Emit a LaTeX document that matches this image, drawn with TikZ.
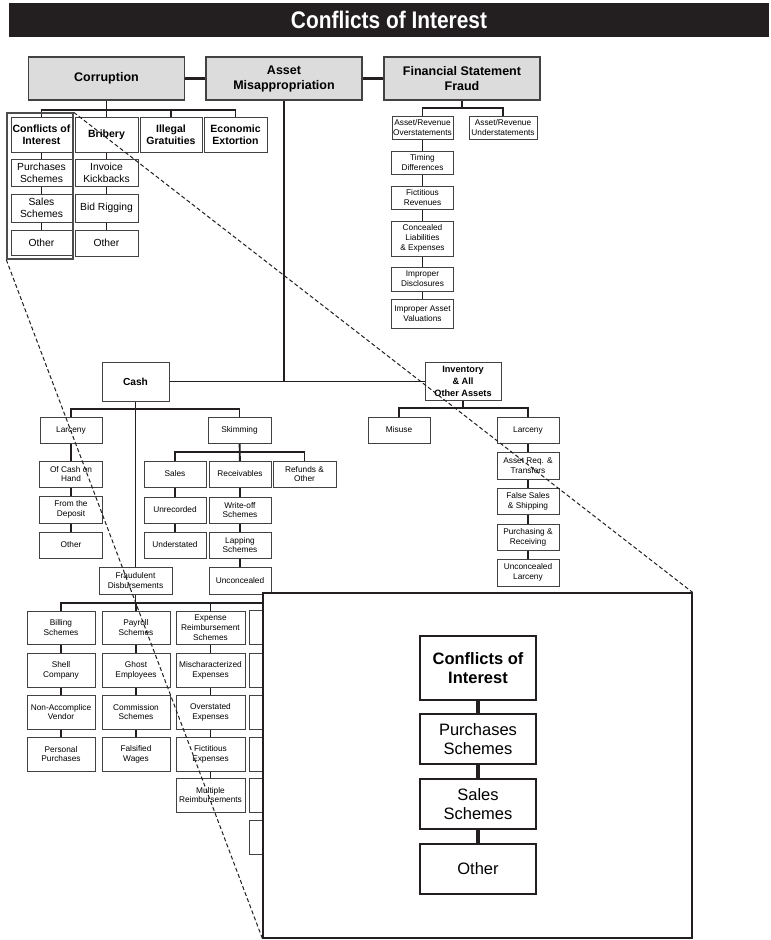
\documentclass[tikz,border=0pt]{standalone}
\usepackage{fontspec}
\setmainfont{Liberation Sans}
\newfontfamily\titlefont[FakeStretch=0.87]{Liberation Sans}
\usetikzlibrary{backgrounds}
\definecolor{ink}{HTML}{231F20}
\definecolor{boxgray}{HTML}{DCDCDC}

\begin{document}
\begin{tikzpicture}[
  x=1pt, y=-1pt,
  box/.style={draw=ink!85, line width=0.95pt, fill=white, align=center, inner sep=1pt},
  topbox/.style={box, fill=boxgray, line width=1.1pt, minimum width=156pt, minimum height=43pt, font=\fontsize{12.5}{15}\selectfont\bfseries},
  headbox/.style={box, minimum height=35pt, font=\fontsize{10.5}{12.5}\selectfont\bfseries},
  midbox/.style={box, font=\fontsize{10.3}{12}\selectfont},
  smallbox/.style={box, font=\fontsize{8.3}{9.8}\selectfont},
  bigbox/.style={box, draw=ink, line width=1.8pt, minimum width=116pt, minimum height=50pt, font=\fontsize{16.5}{19.5}\selectfont},
  link/.style={draw=ink, line width=1.9pt, line cap=rect},
  thicklink/.style={draw=ink, line width=3.4pt},
  zoomline/.style={draw=ink, line width=1pt, dash pattern=on 4pt off 2.5pt}
]
\useasboundingbox (0,0) rectangle (771,940);

% title bar
\node[fill=ink, text=white, minimum width=760pt, minimum height=34pt, inner sep=0pt,
  font=\titlefont\bfseries\fontsize{24}{26}\selectfont] (title) at (389,20) {Conflicts of Interest};

% top level
\node[topbox] (corr) at (106.5,78.5) {Corruption};
\node[topbox] (asset) at (284,78.5) {Asset\\Misappropriation};
\node[topbox] (fsf) at (462,78.5) {Financial Statement\\Fraud};

% corruption
\node[headbox, minimum width=61pt] (coi) at (41.5,134.5) {Conflicts of\\Interest};
\node[headbox, minimum width=63pt] (brib) at (106.5,134.5) {Bribery};
\node[headbox, minimum width=62pt] (illeg) at (171,134.5) {Illegal\\Gratuities};
\node[headbox, minimum width=63pt] (extort) at (235.5,134.5) {Economic\\Extortion};
\node[midbox, minimum width=61pt, minimum height=27pt] (purch) at (41.5,172.5) {Purchases\\Schemes};
\node[midbox, minimum width=61pt, minimum height=28pt] (salesch) at (41.5,208) {Sales\\Schemes};
\node[midbox, minimum width=61pt, minimum height=25pt] (othcoi) at (41.5,242.5) {Other};
\node[midbox, minimum width=63pt, minimum height=27pt] (kick) at (106.5,172.5) {Invoice\\Kickbacks};
\node[midbox, minimum width=63pt, minimum height=28pt] (rig) at (106.5,208) {Bid Rigging};
\node[midbox, minimum width=63pt, minimum height=26pt] (othbrib) at (106.5,243) {Other};
\node[draw=ink!80, line width=1.4pt, minimum width=66pt, minimum height=146pt, inner sep=0pt] (hilite) at (40,186) {};

% financial statement fraud
\node[smallbox, minimum width=61pt, minimum height=23pt] (over) at (422.5,127.5) {Asset/Revenue\\Overstatements};
\node[smallbox, minimum width=68pt, minimum height=23pt] (under) at (503,127.5) {Asset/Revenue\\Understatements};
\node[smallbox, minimum width=62pt, minimum height=23pt] (timing) at (422.5,162.5) {Timing\\Differences};
\node[smallbox, minimum width=62pt, minimum height=23pt] (fictrev) at (422.5,197.5) {Fictitious\\Revenues};
\node[smallbox, minimum width=62pt, minimum height=35pt] (conceal) at (422.5,238.5) {Concealed\\Liabilities\\\& Expenses};
\node[smallbox, minimum width=62pt, minimum height=24pt] (disclose) at (422.5,279) {Improper\\Disclosures};
\node[smallbox, minimum width=62pt, minimum height=29pt] (valuat) at (422.5,313.5) {Improper Asset\\Valuations};

% asset misappropriation
\node[box, minimum width=67pt, minimum height=39pt, font=\fontsize{10.2}{12}\selectfont\bfseries] (cash) at (135.5,381.5) {Cash};
\node[box, minimum width=76pt, minimum height=38pt, font=\fontsize{9.2}{11.8}\selectfont\bfseries] (inv) at (463,381.5) {Inventory\\\& All\\Other Assets};

% cash
\node[smallbox, minimum width=62pt, minimum height=26pt] (larcash) at (71,430) {Larceny};
\node[smallbox, minimum width=63pt, minimum height=26pt] (skim) at (239.5,430) {Skimming};
\node[smallbox, minimum width=63pt, minimum height=26pt] (onhand) at (71,474) {Of Cash on\\Hand};
\node[smallbox, minimum width=63pt, minimum height=27pt] (deposit) at (71,509.5) {From the\\Deposit};
\node[smallbox, minimum width=63pt, minimum height=26pt] (othcash) at (71,545) {Other};
\node[smallbox, minimum width=62pt, minimum height=26pt] (salesk) at (175,474) {Sales};
\node[smallbox, minimum width=62pt, minimum height=26pt] (recv) at (240,474) {Receivables};
\node[smallbox, minimum width=63pt, minimum height=26pt] (refund) at (304.5,474) {Refunds \&\\Other};
\node[smallbox, minimum width=62pt, minimum height=26pt] (unrec) at (175,510) {Unrecorded};
\node[smallbox, minimum width=62pt, minimum height=26pt] (underst) at (175,545) {Understated};
\node[smallbox, minimum width=62pt, minimum height=26pt] (writeoff) at (240,510) {Write-off\\Schemes};
\node[smallbox, minimum width=62pt, minimum height=26pt] (lapping) at (240,545) {Lapping\\Schemes};
\node[smallbox, minimum width=62pt, minimum height=27pt] (unconc) at (240,580.5) {Unconcealed};
\node[smallbox, minimum width=73pt, minimum height=27pt] (fraudd) at (135.5,580.5) {Fraudulent\\Disbursements};

% inventory
\node[smallbox, minimum width=62pt, minimum height=26pt] (misuse) at (399,430) {Misuse};
\node[smallbox, minimum width=62pt, minimum height=26pt] (larinv) at (528,430) {Larceny};
\node[smallbox, minimum width=62pt, minimum height=27pt] (assreq) at (528,465.5) {Asset Req. \&\\Transfers};
\node[smallbox, minimum width=62pt, minimum height=26pt] (falses) at (528,501) {False Sales\\\& Shipping};
\node[smallbox, minimum width=62pt, minimum height=26pt] (purchrec) at (528,537) {Purchasing \&\\Receiving};
\node[smallbox, minimum width=62pt, minimum height=27pt] (unlarc) at (528,572.5) {Unconcealed\\Larceny};

% fraudulent disbursements
\node[smallbox, minimum width=68pt, minimum height=33pt] (bill) at (61,627.5) {Billing\\Schemes};
\node[smallbox, minimum width=68pt, minimum height=34pt] (shell) at (61,670) {Shell\\Company};
\node[smallbox, minimum width=68pt, minimum height=34pt] (nonacc) at (61,712) {Non-Accomplice\\Vendor};
\node[smallbox, minimum width=68pt, minimum height=34pt] (perspur) at (61,754) {Personal\\Purchases};
\node[smallbox, minimum width=68pt, minimum height=33pt] (pay) at (136,627.5) {Payroll\\Schemes};
\node[smallbox, minimum width=68pt, minimum height=34pt] (ghost) at (136,670) {Ghost\\Employees};
\node[smallbox, minimum width=68pt, minimum height=34pt] (commis) at (136,712) {Commission\\Schemes};
\node[smallbox, minimum width=68pt, minimum height=34pt] (falsw) at (136,754) {Falsified\\Wages};
\node[smallbox, minimum width=69pt, minimum height=33pt] (expn) at (210.5,627.5) {Expense\\Reimbursement\\Schemes};
\node[smallbox, minimum width=69pt, minimum height=34pt] (mischar) at (210.5,670) {Mischaracterized\\Expenses};
\node[smallbox, minimum width=69pt, minimum height=34pt] (overst) at (210.5,712) {Overstated\\Expenses};
\node[smallbox, minimum width=69pt, minimum height=34pt] (fictexp) at (210.5,754) {Fictitious\\Expenses};
\node[smallbox, minimum width=69pt, minimum height=34pt] (multi) at (210.5,795) {Multiple\\Reimbursements};
\foreach \y [count=\i] in {627.5,670,712,754,795,837}
  \node[smallbox, minimum width=70pt, minimum height=34pt] (chk\i) at (284,\y) {};

% connectors
\begin{scope}[on background layer]
\fill[white] (0,0) rectangle (771,940);
\draw[link, line width=2.3pt] (corr) -- (asset);
\draw[link, line width=2.3pt] (asset) -- (fsf);
\coordinate (corrbus) at (0,110);
\coordinate (fsfbus) at (0,108);
\coordinate (cashbus) at (0,409);
\coordinate (skimbus) at (0,452);
\coordinate (invbus) at (0,408);
\coordinate (fdbus) at (0,603);
\draw[link] (corr) -- (corr |- corrbus);
\draw[link] (coi.north |- corrbus) -- (extort.north |- corrbus);
\foreach \n in {coi,brib,illeg,extort}
  \draw[link] (\n.north) -- (\n.north |- corrbus);
\draw[link] (fsf) -- (fsf |- fsfbus);
\draw[link] (over.north) -- (over.north |- fsfbus) -| (under.north);
\draw[link] (asset) -- (asset |- cash);
\draw[link] (cash) -- (inv);
\draw[link] (larcash.north) -- (larcash.north |- cashbus) -| (skim.north);
\draw[link] (salesk.north) -- (salesk.north |- skimbus) -| (refund.north);
\draw[link] (inv) -- (inv |- invbus);
\draw[link] (misuse.north) -- (misuse.north |- invbus) -| (larinv.north);
\draw[link] (fraudd) -- (fraudd |- fdbus);
\draw[link] (bill.north |- fdbus) -- (chk1.north |- fdbus);
\foreach \n in {bill,pay,expn}
  \draw[link] (\n.north) -- (\n.north |- fdbus);
\foreach \a/\b in {coi/purch, purch/salesch, salesch/othcoi, brib/kick, kick/rig, rig/othbrib,
    over/timing, timing/fictrev, fictrev/conceal, conceal/disclose, disclose/valuat,
    cash/fraudd, larcash/onhand, onhand/deposit, deposit/othcash, skim/recv,
    salesk/unrec, unrec/underst, recv/writeoff, writeoff/lapping, lapping/unconc,
    larinv/assreq, assreq/falses, falses/purchrec, purchrec/unlarc,
    bill/shell, shell/nonacc, nonacc/perspur, pay/ghost, ghost/commis, commis/falsw,
    expn/mischar, mischar/overst, overst/fictexp, fictexp/multi}
  \draw[link] (\a) -- (\b);
\end{scope}

% enlarged view
\node[box, draw=ink, line width=1.2pt, minimum width=429pt, minimum height=345pt] (zoombox) at (477.5,765.5) {};
\node[bigbox, minimum height=64pt, font=\fontsize{16.5}{19.5}\selectfont\bfseries] (coibig) at (478,668) {Conflicts of\\Interest};
\node[bigbox] (purchbig) at (478,739) {Purchases\\Schemes};
\node[bigbox] (salesbig) at (478,804) {Sales\\Schemes};
\node[bigbox] (othbig) at (478,869) {Other};
\foreach \a/\b in {coibig/purchbig, purchbig/salesbig, salesbig/othbig}
  \draw[thicklink] (\a) -- (\b);

\draw[zoomline] (hilite.north east) -- (zoombox.north east);
\draw[zoomline] (hilite.south west) -- (zoombox.south west);
\end{tikzpicture}
\end{document}
